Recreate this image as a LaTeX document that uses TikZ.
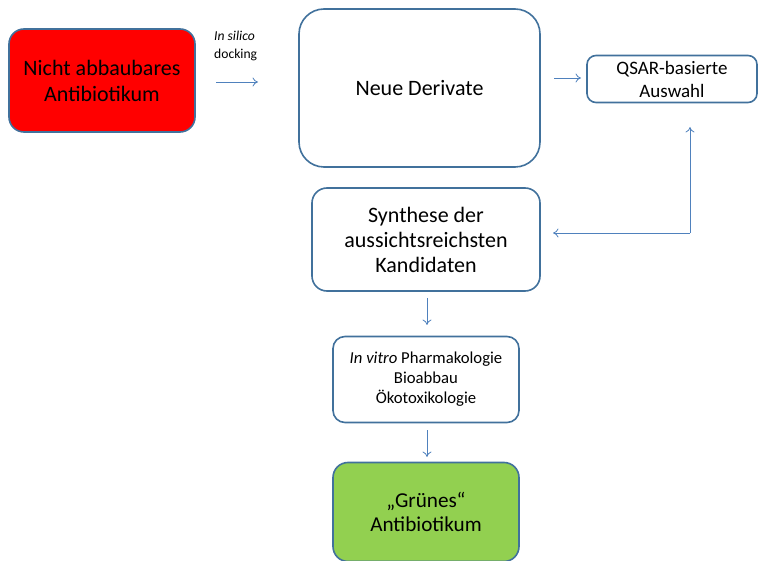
\documentclass[tikz,border=0pt]{standalone}
\usepackage{fontspec}
\setmainfont{Carlito}
\usetikzlibrary{arrows.meta}
\definecolor{bord}{HTML}{41719C}
\definecolor{arr}{HTML}{4F81BD}
\definecolor{grn}{HTML}{92D050}
\begin{document}
\begin{tikzpicture}[x=1pt,y=-1pt,
  box/.style={draw=bord,line width=1.6pt,align=center,inner sep=0pt,text=black},
  conn/.style={draw=arr,line width=0.8pt,-{To[length=5.5pt,width=9pt]}}]
\useasboundingbox (0,0) rectangle (758,561);
% boxes
\node[box,fill=red,rounded corners=15pt,minimum width=186pt,minimum height=103pt,font=\fontsize{22}{26}\selectfont] (red) at (102,80.5) {Nicht abbaubares\\Antibiotikum};
\node[box,rounded corners=25pt,minimum width=241pt,minimum height=158pt,font=\fontsize{22}{26}\selectfont] (neue) at (419.5,88) {Neue Derivate};
\node[box,rounded corners=9pt,minimum width=170pt,minimum height=47pt,font=\fontsize{19}{23}\selectfont] (qsar) at (672,79) {QSAR-basierte\\Auswahl};
\node[box,rounded corners=15pt,minimum width=228pt,minimum height=103pt,font=\fontsize{22}{25}\selectfont] (syn) at (426,239.5) {Synthese der\\aussichtsreichsten\\Kandidaten};
\node[box,rounded corners=12pt,minimum width=186pt,minimum height=86pt,font=\fontsize{16.7}{20}\selectfont] (vitro) at (426,379.5) {\textit{In vitro} Pharmakologie\\Bioabbau\\Ökotoxikologie};
\node[box,fill=grn,rounded corners=15pt,minimum width=186pt,minimum height=99pt,font=\fontsize{21.2}{24}\selectfont] (gruen) at (426,512) {„Grünes“\\Antibiotikum};
% label
\node[align=left,anchor=north west,inner sep=0pt,font=\fontsize{13.6}{17.5}\selectfont] (lab) at (214,31) {\textit{In silico}\\docking};
% coordinates
\coordinate (a1s) at (216,82);
\coordinate (a1e) at (258,82);
\coordinate (a2s) at (554,78);
\coordinate (a2e) at (581,78);
\coordinate (fb1) at (690,233);
\coordinate (fb0) at (690,127);
\coordinate (fb2) at (553,233);
\coordinate (d1s) at (427,298);
\coordinate (d1e) at (427,325);
\coordinate (d2s) at (427,430);
\coordinate (d2e) at (427,457);
% connectors
\draw[conn] (a1s) -- (a1e);
\draw[conn] (a2s) -- (a2e);
\draw[conn] (fb1) -- (fb0);
\draw[conn] (fb1) -- (fb2);
\draw[conn] (d1s) -- (d1e);
\draw[conn] (d2s) -- (d2e);
\end{tikzpicture}
\end{document}
